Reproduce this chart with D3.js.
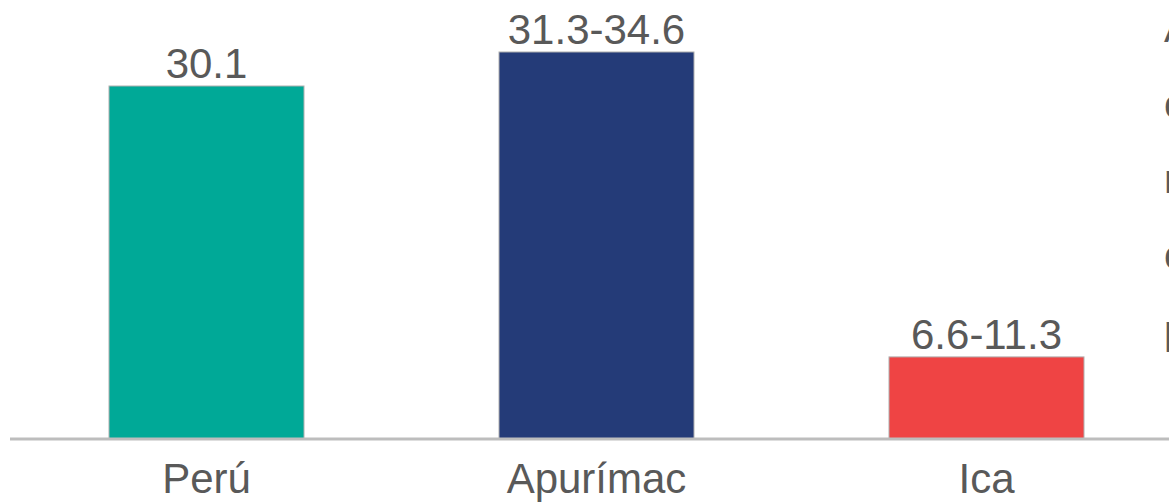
<!DOCTYPE html>
<meta charset="utf-8">
<style>
body { margin: 0; background: #fff; }
svg { display: block; }
.lbl, .cat, .side { font-family: "Liberation Sans", Arial, sans-serif; fill: #595959; }
</style>
<svg width="1169" height="502"></svg>
<script src="https://d3js.org/d3.v7.min.js"></script>
<script>

var categories = ["Perú", "Apurímac", "Ica"],
    values = [30.1, 33.0, 7.0],
    valueLabels = ["30.1", "31.3-34.6", "6.6-11.3"],
    colors = ["#00a997", "#243b78", "#ef4444"];

// cut-off text at the right edge of the slide
var sideLines = ["Apurímac", "con", "nivel", "con", "pobreza"];

var svg = d3.select("svg"),
    width = +svg.attr("width"),
    height = +svg.attr("height");

var baseY = 439;

var x = d3.scaleBand()
    .domain(categories)
    .range([11.5, 1181.5])
    .paddingInner(0.5)
    .paddingOuter(0.25);

var y = d3.scaleLinear()
    .domain([0, 30.1])
    .range([baseY, 86]);

var data = categories.map(function(c, i) {
  return {name: c, value: values[i], label: valueLabels[i], color: colors[i]};
});

svg.selectAll(".bar")
    .data(data)
  .enter().append("rect")
    .attr("class", "bar")
    .attr("x", function(d) { return x(d.name); })
    .attr("y", function(d) { return y(d.value); })
    .attr("width", x.bandwidth())
    .attr("height", function(d) { return baseY - y(d.value); })
    .attr("fill", function(d) { return d.color; })
    .attr("stroke", "#b0b0b0")
    .attr("stroke-width", 1);

svg.append("line")
    .attr("x1", 10)
    .attr("x2", width)
    .attr("y1", baseY)
    .attr("y2", baseY)
    .attr("stroke", "#bdbdbd")
    .attr("stroke-width", 3);

svg.selectAll(".lbl")
    .data(data)
  .enter().append("text")
    .attr("class", "lbl")
    .attr("x", function(d) { return x(d.name) + x.bandwidth() / 2; })
    .attr("y", function(d) { return y(d.value) - 8; })
    .attr("text-anchor", "middle")
    .style("font-size", "42px")
    .text(function(d) { return d.label; });

svg.selectAll(".cat")
    .data(data)
  .enter().append("text")
    .attr("class", "cat")
    .attr("x", function(d) { return x(d.name) + x.bandwidth() / 2; })
    .attr("y", 493)
    .attr("text-anchor", "middle")
    .style("font-size", "42px")
    .text(function(d) { return d.name; });

svg.selectAll(".side")
    .data(sideLines)
  .enter().append("text")
    .attr("class", "side")
    .attr("x", 1164)
    .attr("y", function(d, i) { return 42 + i * 75.5; })
    .style("font-size", "40px")
    .text(function(d) { return d; });

</script>
